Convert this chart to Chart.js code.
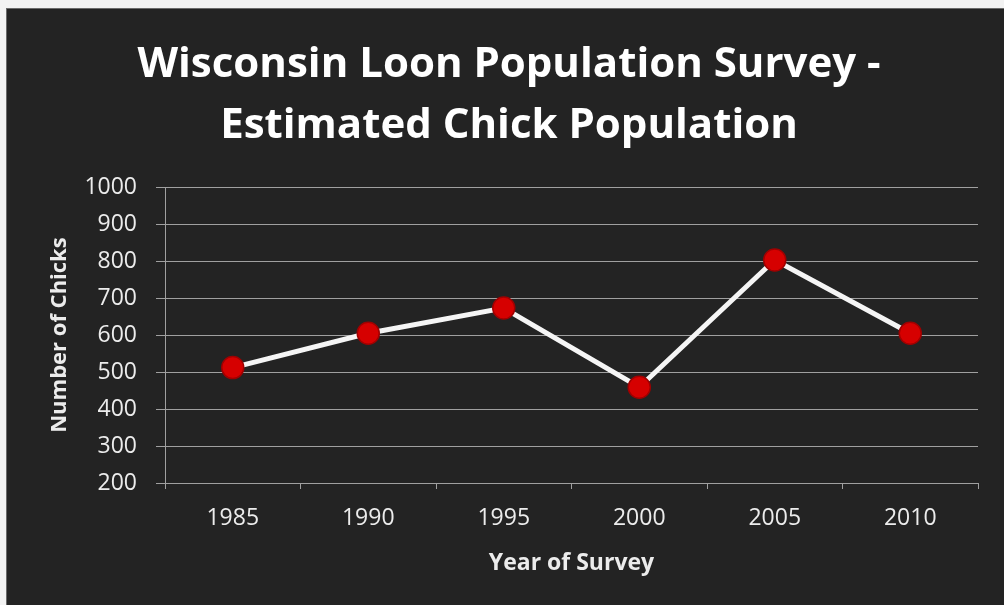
<!DOCTYPE html>
<html>
<head>
<meta charset="utf-8">
<script src="https://cdn.jsdelivr.net/npm/chart.js@4.4.1/dist/chart.umd.min.js"></script>
<style>
  html, body { margin: 0; padding: 0; background: #f2f2f2; width: 1004px; height: 605px; overflow: hidden; }
  #wrap { position: absolute; left: 6px; top: 8px; width: 998px; height: 597px; background: #232323; box-shadow: inset 1px 1px 0 #6a6a6a; }
  canvas { display: block; }
</style>
</head>
<body>
<div id="wrap"><canvas id="c" width="998" height="597"></canvas></div>
<script>
const years = ['1985', '1990', '1995', '2000', '2005', '2010'];
const chicks = [512, 605, 673, 459, 803, 605];
const yMin = 200;
const yMax = 1000;
const yStep = 100;
const titleLines = ['Wisconsin Loon Population Survey -', 'Estimated Chick Population'];
const xTitle = 'Year of Survey';
const yTitle = 'Number of Chicks';

const FONT = '"Open Sans", Lato, "DejaVu Sans", sans-serif';
const GRID = '#a0a0a0';
const TEXT = '#ececec';

new Chart(document.getElementById('c'), {
  type: 'line',
  data: {
    labels: years,
    datasets: [{
      data: chicks,
      borderColor: '#f5f5f5',
      borderWidth: 5,
      pointRadius: 11,
      pointHoverRadius: 11,
      pointBackgroundColor: '#d60000',
      pointBorderColor: '#a00000',
      pointBorderWidth: 1.5,
      tension: 0,
      fill: false
    }]
  },
  options: {
    responsive: false,
    animation: false,
    events: [],
    layout: { padding: { left: 34, right: 26, top: 0, bottom: 0 } },
    plugins: {
      legend: { display: false },
      tooltip: { enabled: false },
      title: {
        display: true,
        text: titleLines,
        color: '#ffffff',
        font: { family: FONT, size: 42, weight: 'bold', lineHeight: 1.43 },
        padding: { top: 27.5, bottom: 31.5 }
      }
    },
    scales: {
      x: {
        offset: true,
        grid: { offset: true, drawOnChartArea: false, drawTicks: true, tickLength: 6, color: GRID },
        border: { display: true, color: GRID, width: 1 },
        ticks: { color: TEXT, font: { family: FONT, size: 23 }, padding: 16 },
        title: {
          display: true, text: xTitle, color: TEXT,
          font: { family: FONT, size: 23, weight: 'bold', lineHeight: 1.2 },
          padding: { top: 0, bottom: 27.5 }
        },
        afterFit: s => { s.height = 122; }
      },
      y: {
        min: yMin, max: yMax,
        grid: { color: GRID, lineWidth: 1, drawTicks: true, tickLength: 9 },
        border: { display: true, color: GRID, width: 1 },
        ticks: { stepSize: yStep, color: TEXT, font: { family: FONT, size: 23 }, padding: 19,
                 callback: v => String(v) },
        title: {
          display: true, text: yTitle, color: TEXT,
          font: { family: FONT, size: 22, weight: 'bold', lineHeight: 1.2 },
          padding: { top: 7, bottom: 0 }
        },
        afterFit: s => { s.width = 125; }
      }
    }
  }
});
</script>
</body>
</html>
